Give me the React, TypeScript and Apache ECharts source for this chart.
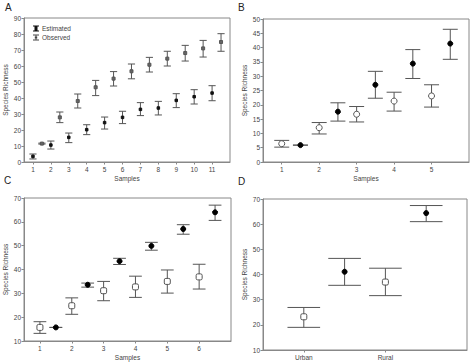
import React, { useEffect, useRef } from "react";
import * as echarts from "echarts";

// ---------- Panel A ----------
const A_obsX = [1, 2, 3, 4, 5, 6, 7, 8, 9, 10, 11];
const A_obs = [3.5, 10.6, 15.4, 20.2, 24.6, 27.9, 32.9, 33.75, 38.5, 40.8, 43.1];
const A_obsLow = [1.9, 8.1, 12.1, 17.1, 20.6, 24, 29, 29.4, 34, 36.25, 38.3];
const A_obsHigh = [5, 13.1, 18.1, 23.3, 28.1, 31.7, 37.1, 37.9, 42.7, 45.2, 47.7];
const A_estX = [1.5, 2.5, 3.5, 4.5, 5.5, 6.5, 7.5, 8.5, 9.5, 10.5, 11.5];
const A_est = [11.5, 27.9, 38.1, 46.7, 52.1, 56.7, 60.8, 64.6, 68.1, 71, 75];
const A_estLow = [11.2, 24.6, 33.75, 41.5, 47.5, 52, 56.25, 60, 63.1, 65.6, 69.2];
const A_estHigh = [11.8, 31.25, 42.5, 51, 56.5, 61.25, 65.4, 69.2, 72.9, 76, 80.2];

// ---------- Panel B ----------
const B_obsX = [1, 2, 3, 4, 5];
const B_obs = [6.4, 12, 16.7, 21.3, 23.1];
const B_obsLow = [5.2, 9.8, 14, 17.8, 19.2];
const B_obsHigh = [7.56, 13.8, 19.4, 24.4, 27];
const B_estX = [1.5, 2.5, 3.5, 4.5, 5.5];
const B_est = [5.9, 17.6, 27, 34.4, 41.4];
const B_estLow = [5.9, 14.3, 22.3, 29.2, 35.9];
const B_estHigh = [5.9, 20.7, 31.7, 39.3, 46.4];

// ---------- Panel C ----------
const C_obsX = [1, 2, 3, 4, 5, 6];
const C_obs = [15.7, 24.8, 31.1, 32.7, 35, 36.9];
const C_obsLow = [13.2, 21.2, 26.9, 28.3, 30.1, 31.8];
const C_obsHigh = [18.1, 28.1, 35, 37.2, 39.8, 42.2];
const C_estX = [1.5, 2.5, 3.5, 4.5, 5.5, 6.5];
const C_est = [15.7, 33.6, 43.5, 49.9, 57, 64];
const C_estLow = [15.7, 32.6, 42.1, 48.1, 54.8, 60.6];
const C_estHigh = [15.7, 34.3, 44.7, 51.4, 58.8, 67];

// ---------- Panel D ----------
const D_categories = ["Urban", "Rural"];
const D_obsX = [1, 2];
const D_obs = [23.2, 37];
const D_obsLow = [19, 31.6];
const D_obsHigh = [26.9, 42.5];
const D_estX = [1.5, 2.5];
const D_est = [41.1, 64.4];
const D_estLow = [35.7, 61];
const D_estHigh = [46.4, 67.4];

const FONT = "Liberation Sans, Arial, sans-serif";
const TXT = "#444";
const BAR = "#555";
const FRAME = "#888";

const pts = (xs: number[], ys: number[]) => xs.map((x, i) => [x, ys[i]]);
const bars = (xs: number[], lo: number[], hi: number[]) =>
  xs.map((x, i) => [x, lo[i], hi[i]]);

function errorSeries(idx: number, data: number[][], name: string) {
  return {
    type: "custom",
    name,
    xAxisIndex: idx,
    yAxisIndex: idx,
    silent: true,
    encode: { x: 0, y: [1, 2] },
    data,
    z: 2,
    renderItem: (params: any, api: any) => {
      const x = api.value(0);
      const lo = api.value(1);
      const hi = api.value(2);
      const pLo = api.coord([x, lo]);
      const pHi = api.coord([x, hi]);
      const half = api.size([0.4, 0])[0] / 2;
      const st = { stroke: BAR, lineWidth: 1 };
      return {
        type: "group",
        children: [
          { type: "line", shape: { x1: pLo[0], y1: pLo[1], x2: pHi[0], y2: pHi[1] }, style: st },
          { type: "line", shape: { x1: pHi[0] - half, y1: pHi[1], x2: pHi[0] + half, y2: pHi[1] }, style: st },
          { type: "line", shape: { x1: pLo[0] - half, y1: pLo[1], x2: pLo[0] + half, y2: pLo[1] }, style: st },
        ],
      };
    },
  };
}

function scatter(idx: number, data: number[][], name: string, symbol: string, size: number, color: string, border: string) {
  return {
    type: "scatter",
    name,
    xAxisIndex: idx,
    yAxisIndex: idx,
    data,
    symbol,
    symbolSize: size,
    z: 5,
    itemStyle: { color, borderColor: border, borderWidth: 1, opacity: 1 },
    emphasis: { disabled: true },
  };
}

function xAxis(idx: number, n: number, name: string, fmt?: (v: number) => string) {
  const vals = Array.from({ length: n }, (_, i) => i + 1);
  return {
    type: "value",
    gridIndex: idx,
    min: 0.5,
    max: n + 1,
    name,
    nameLocation: "middle",
    nameGap: 13,
    nameTextStyle: { fontSize: 6.5, color: TXT, fontFamily: FONT },
    splitLine: { show: false },
    axisLine: { show: true, lineStyle: { color: FRAME } },
    axisTick: { show: true, inside: false, length: 2.5, customValues: vals, lineStyle: { color: FRAME } },
    axisLabel: {
      customValues: vals,
      fontSize: 6.5,
      color: TXT,
      fontFamily: FONT,
      margin: 4,
      formatter: fmt ? (v: number) => fmt(v) : (v: number) => String(v),
    },
  };
}

function yAxis(idx: number, min: number, max: number, interval: number) {
  return {
    type: "value",
    gridIndex: idx,
    min,
    max,
    interval,
    name: "Species Richness",
    nameLocation: "middle",
    nameGap: 15,
    nameTextStyle: { fontSize: 6.5, color: TXT, fontFamily: FONT },
    splitLine: { show: false },
    axisLine: { show: true, lineStyle: { color: FRAME } },
    axisTick: { show: true, inside: false, length: 2.5, lineStyle: { color: FRAME } },
    axisLabel: { fontSize: 6.5, color: TXT, fontFamily: FONT, margin: 3 },
  };
}

export default function App() {
  const ref = useRef<HTMLDivElement>(null);
  useEffect(() => {
    if (!ref.current) return;
    const chart = echarts.init(ref.current, undefined, { renderer: "svg" });
    const gridStyle = { show: true, borderColor: FRAME, borderWidth: 1, backgroundColor: "transparent" };
    const option: any = {
      animation: false,
      backgroundColor: "#fff",
      textStyle: { fontFamily: FONT },
      grid: [
        { left: 24, top: 18, width: 206, height: 144, ...gridStyle },
        { left: 263, top: 19, width: 206, height: 143, ...gridStyle },
        { left: 24, top: 198, width: 207, height: 143, ...gridStyle },
        { left: 263, top: 199, width: 204, height: 151, ...gridStyle },
      ],
      xAxis: [
        xAxis(0, 11, "Samples"),
        xAxis(1, 5, "Samples"),
        xAxis(2, 6, "Samples"),
        xAxis(3, 2, "", (v: number) => D_categories[v - 1] || ""),
      ],
      yAxis: [yAxis(0, 0, 90, 10), yAxis(1, 0, 50, 5), yAxis(2, 10, 70, 10), yAxis(3, 10, 70, 10)],
      legend: {
        show: true,
        data: [
          {
            name: "Estimated",
            icon: "path://M0,0H10V1.5H0Z M2.5,1.5H7.5V8.5H2.5Z M0,8.5H10V10H0Z",
            itemStyle: { color: "#111", borderWidth: 0 },
          },
          {
            name: "Observed",
            icon: "path://M0,0H10V1.5H0Z M4.3,1.5H5.7V8.5H4.3Z M0,8.5H10V10H0Z M3,3.5H7V6.5H3Z",
            itemStyle: { color: "#444", borderWidth: 0 },
          },
        ],
        orient: "vertical",
        left: 28,
        top: 20,
        itemWidth: 6,
        itemHeight: 6,
        itemGap: 2,
        selectedMode: false,
        textStyle: { fontSize: 6.5, color: TXT, fontFamily: FONT, padding: [0, 0, 0, -2] },
      },
      graphic: [
        { type: "text", left: 5, top: 2, style: { text: "A", fontSize: 10, fill: "#222", fontFamily: FONT } },
        { type: "text", left: 238, top: 2, style: { text: "B", fontSize: 10, fill: "#222", fontFamily: FONT } },
        { type: "text", left: 4, top: 175, style: { text: "C", fontSize: 10, fill: "#222", fontFamily: FONT } },
        { type: "text", left: 238, top: 176, style: { text: "D", fontSize: 10, fill: "#222", fontFamily: FONT } },
      ],
      series: [
        errorSeries(0, bars(A_obsX, A_obsLow, A_obsHigh), "A-obs-err"),
        errorSeries(0, bars(A_estX, A_estLow, A_estHigh), "A-est-err"),
        scatter(0, pts(A_obsX, A_obs), "Observed", "rect", 2.5, "#111", "#111"),
        scatter(0, pts(A_estX, A_est), "Estimated", "rect", 3, "#666", "#555"),

        errorSeries(1, bars(B_obsX, B_obsLow, B_obsHigh), "B-obs-err"),
        errorSeries(1, bars(B_estX, B_estLow, B_estHigh), "B-est-err"),
        scatter(1, pts(B_obsX, B_obs), "B-obs", "circle", 6, "#fff", "#555"),
        scatter(1, pts(B_estX, B_est), "B-est", "circle", 5, "#000", "#000"),

        errorSeries(2, bars(C_obsX, C_obsLow, C_obsHigh), "C-obs-err"),
        errorSeries(2, bars(C_estX, C_estLow, C_estHigh), "C-est-err"),
        scatter(2, pts(C_obsX, C_obs), "C-obs", "roundRect", 6, "#fff", "#555"),
        scatter(2, pts(C_estX, C_est), "C-est", "circle", 5, "#000", "#000"),

        errorSeries(3, bars(D_obsX, D_obsLow, D_obsHigh), "D-obs-err"),
        errorSeries(3, bars(D_estX, D_estLow, D_estHigh), "D-est-err"),
        scatter(3, pts(D_obsX, D_obs), "D-obs", "roundRect", 6, "#fff", "#555"),
        scatter(3, pts(D_estX, D_est), "D-est", "circle", 5, "#000", "#000"),
      ],
    };
    chart.setOption(option);
    return () => chart.dispose();
  }, []);
  return (
    <div
      ref={ref}
      style={{ position: "absolute", left: 0, top: 0, width: 474, height: 364, background: "#fff" }}
    />
  );
}
